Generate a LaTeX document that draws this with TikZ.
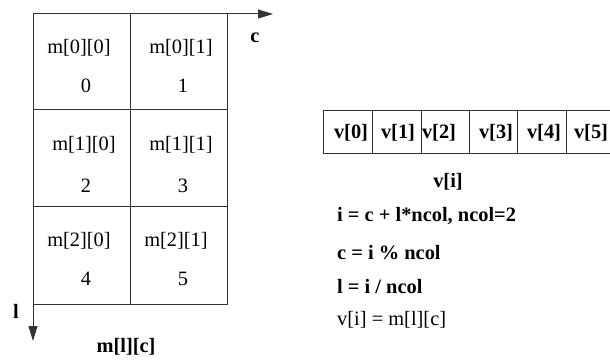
\documentclass[tikz,border=0pt]{standalone}
\usepackage{fontspec}
\setmainfont{Liberation Serif}
\usetikzlibrary{arrows.meta}
\begin{document}
\begin{tikzpicture}[x=1pt,y=-1pt,
  txt/.style={inner sep=0pt,anchor=base,font=\fontsize{20.4}{24}\selectfont},
  btxt/.style={txt,font=\fontsize{20.4}{24}\selectfont\bfseries},
  ln/.style={line width=1pt,draw=black!80},
  axis/.style={ln,-{Triangle[length=15pt,width=9pt]}}]
\useasboundingbox (0,0) rectangle (610,363);
% matrix grid
\draw[ln] (33,14) rectangle (227,304);
\draw[ln] (130,14) -- (130,304);
\draw[ln] (33,110) -- (227,110);
\draw[ln] (33,207) -- (227,207);
% axes
\coordinate (o) at (33,14);
\coordinate (cx) at (273,14);
\coordinate (lb) at (33,304);
\coordinate (ly) at (33,341);
\draw[axis] (o) -- (cx);
\draw[axis] (lb) -- (ly);
% cell texts
\node[txt] (m00) at (79,54) {m[0][0]};
\node[txt] (n0) at (86,93) {0};
\node[txt] (m01) at (181,54) {m[0][1]};
\node[txt] (n1) at (183,93) {1};
\node[txt] (m10) at (84,151) {m[1][0]};
\node[txt] (n2) at (86,193) {2};
\node[txt] (m11) at (181,151) {m[1][1]};
\node[txt] (n3) at (183,193) {3};
\node[txt] (m20) at (79,247) {m[2][0]};
\node[txt] (n4) at (86,285) {4};
\node[txt] (m21) at (176,247) {m[2][1]};
\node[txt] (n5) at (183,285) {5};
% axis labels
\node[btxt] (lc) at (255,43) {c};
\node[btxt] (ll) at (16,318) {l};
\node[btxt] (lm) at (126,352) {m[l][c]};
% vector
\draw[ln] (610,111) -- (323,111) -- (323,154) -- (610,154);
\foreach \x in {372,421,469,517,566} \draw[ln] (\x,111) -- (\x,154);
\node[btxt] (v0) at (351,139) {v[0]};
\node[btxt] (v1) at (398,139) {v[1]};
\node[btxt] (v2) at (439,139) {v[2]};
\node[btxt] (v3) at (496,139) {v[3]};
\node[btxt] (v4) at (544,139) {v[4]};
\node[btxt] (v5) at (591,139) {v[5]};
\node[btxt] (vi) at (448,188) {v[i]};
\node[btxt,anchor=base west] (e1) at (337,222) {i = c + l*ncol, ncol=2};
\node[btxt,anchor=base west] (e2) at (337,260) {c = i \% ncol};
\node[btxt,anchor=base west] (e3) at (337,294) {l = i / ncol};
\node[txt,anchor=base west] (e4) at (337,325) {v[i] = m[l][c]};
\end{tikzpicture}
\end{document}
